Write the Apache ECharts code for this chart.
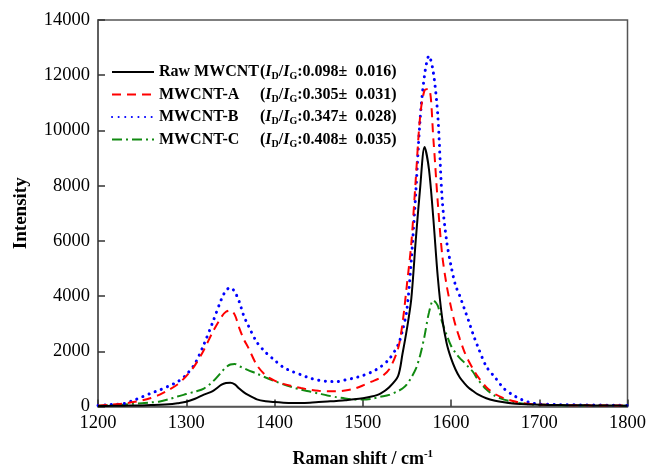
<!DOCTYPE html>
<html><head><meta charset="utf-8">
<script src="https://cdn.jsdelivr.net/npm/echarts@6/dist/echarts.min.js"></script>
<style>html,body{margin:0;padding:0;background:#fff}#c{width:649px;height:473px}</style>
</head><body><div id="c"></div>
<script>
const xs = [1200,1210,1220,1230,1240,1250,1260,1270,1280,1290,1300,1310,1320,1330,1340,
  1345,1350,1355,1360,1365,
  1370,1380,1390,1400,1410,1420,1430,1440,1450,1460,1470,1480,1490,1500,1510,1520,1530,
  1540,1545,1550,1555,1560,1565,1570,1575,1580,1585,1590,1595,1600,1605,1610,1615,1620,1625,1630,
  1640,1650,1660,1670,1680,1690,1700,1710,1720,1730,1740,1750,1760,1770,1780,1790,1800];

const rawVals = [20,22,25,30,35,40,50,60,80,120,170,280,430,560,790,
  850,860,800,650,520,
  420,260,190,160,140,130,130,140,160,180,200,230,260,300,360,470,700,
  1100,1900,2800,3900,6000,7900,9400,8600,6800,4700,3200,2300,1750,1350,1050,850,680,560,450,
  300,210,150,110,90,75,65,58,52,48,45,42,40,38,35,32,30];

const aVals = [30,50,80,110,160,220,310,430,600,800,1100,1500,2050,2700,3250,
  3430,3480,3320,2850,2450,
  2150,1500,1130,940,820,740,670,610,570,550,550,580,640,760,900,1050,1350,
  2100,3000,4400,5900,8200,10500,11450,11500,9700,7400,5500,4400,3600,2950,2450,2000,1650,1360,1100,
  700,450,300,200,130,90,70,60,55,50,45,45,40,40,35,35,30];

const bVals = [40,60,80,110,220,350,480,600,740,890,1150,1560,2250,3050,3900,
  4200,4310,4150,3800,3300,
  2950,2330,1960,1680,1420,1270,1150,1030,950,910,900,960,1030,1120,1250,1430,1720,
  2230,2750,3500,5300,7700,10400,12000,12700,12100,10550,7500,6000,5100,4400,4000,3550,3100,2620,2200,
  1450,1050,650,420,250,140,90,80,70,65,60,55,50,50,45,45,40];

const cVals = [30,40,55,75,100,120,150,180,260,360,450,540,650,900,1250,
  1420,1520,1540,1460,1390,
  1320,1190,1050,920,800,700,610,540,470,400,340,290,255,250,280,350,420,
  560,650,800,1050,1350,1850,2550,3400,3850,3650,3050,2600,2200,1950,1750,1600,1420,1250,1000,
  620,380,250,170,110,80,65,55,50,45,45,40,40,35,35,30,30];

const seriesNames = ['Raw MWCNT','MWCNT-A','MWCNT-B','MWCNT-C'];
const ratioVals = ['0.098±  0.016','0.305±  0.031','0.347±  0.028','0.408±  0.035'];
const xTicks = [1200,1300,1400,1500,1600,1700,1800];
const yTicks = [0,2000,4000,6000,8000,10000,12000,14000];

const serif = '"Liberation Serif","DejaVu Serif",serif';
const pair = v => xs.map((x,i)=>[x,v[i]]);
const colors = ['#000000','#ff0000','#0000ff','#118a11'];
const dashes = ['solid',[9,6],[0.1,6.5],[10,4,2,4]];
const widths = [2,2,3,2];
const allVals = [rawVals,aVals,bVals,cVals];

const chart = echarts.init(document.getElementById('c'), null, {renderer:'canvas'});
chart.setOption({
  animation:false,
  backgroundColor:'#fff',
  grid:{left:98,right:17,top:20,bottom:63,show:true,borderColor:'#555',borderWidth:1.5,backgroundColor:'transparent'},
  legend:{
    orient:'vertical', left:106, top:59, itemWidth:42, itemHeight:14, itemGap:5,
    data:seriesNames,
    itemStyle:{opacity:0},
    formatter:function(name){
      const i = seriesNames.indexOf(name);
      return '{n|'+name+'}{t|(}{i|I}{s|D}{t|/}{i|I}{s|G}{t|:'+ratioVals[i]+')}';
    },
    textStyle:{
      fontFamily:serif, fontWeight:'bold', fontSize:16, color:'#000',
      rich:{
        n:{fontFamily:serif,fontWeight:'bold',fontSize:16,width:101},
        t:{fontFamily:serif,fontWeight:'bold',fontSize:16},
        i:{fontFamily:serif,fontWeight:'bold',fontStyle:'italic',fontSize:16},
        s:{fontFamily:serif,fontWeight:'bold',fontSize:10,padding:[9,0,0,0]}
      }
    }
  },
  xAxis:{
    type:'value', min:1200, max:1800, interval:100,
    name:'Raman shift / cm{sup|-1}', nameLocation:'middle', nameGap:42,
    nameTextStyle:{fontFamily:serif,fontWeight:'bold',fontSize:18,color:'#000',
      rich:{sup:{fontFamily:serif,fontWeight:'bold',fontSize:11,padding:[0,0,10,0]}}},
    axisLine:{lineStyle:{color:'#555',width:1.5}},
    axisTick:{inside:true,length:7,lineStyle:{color:'#333',width:1.5}},
    axisLabel:{fontFamily:serif,fontSize:18.5,color:'#000',margin:7,
      formatter:v=>xTicks.includes(v)?String(v):''},
    splitLine:{show:false}
  },
  yAxis:{
    type:'value', min:0, max:14000, interval:2000,
    name:'Intensity', nameLocation:'middle', nameGap:67, nameRotate:90,
    nameTextStyle:{fontFamily:serif,fontWeight:'bold',fontSize:19,color:'#000'},
    axisLine:{show:true,lineStyle:{color:'#555',width:1.5}},
    axisTick:{show:true,inside:true,length:7,lineStyle:{color:'#333',width:1.5}},
    axisLabel:{fontFamily:serif,fontSize:18.5,color:'#000',margin:8,
      formatter:v=>yTicks.includes(v)?String(v):''},
    splitLine:{show:false}
  },
  series: seriesNames.map((n,i)=>({
    name:n, type:'line', data:pair(allVals[i]), showSymbol:false, symbol:'none',
    smooth:0.3, z:10-i,
    lineStyle:{color:colors[i],width:widths[i],type:dashes[i],cap:i===2?'round':'butt'},
    itemStyle:{color:colors[i]}
  }))
});
</script></body></html>
